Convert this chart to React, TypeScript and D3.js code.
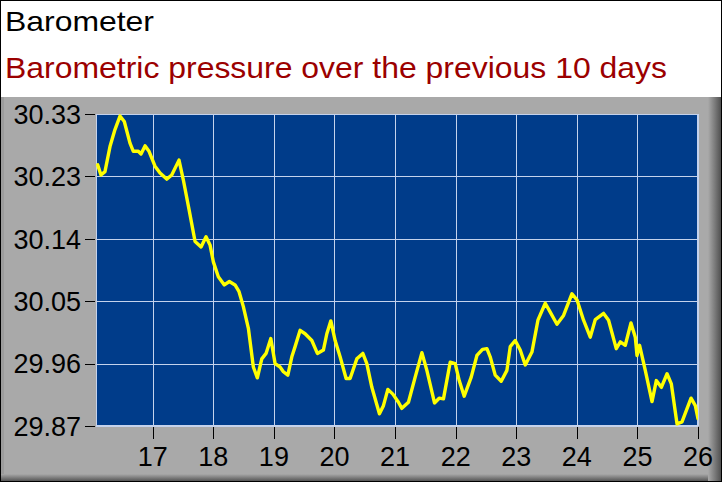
import * as d3 from "d3";
import { useEffect, useRef } from "react";

// day of month (fractional) and pressure in inHg
const days = [
  16.092, 16.146, 16.212, 16.295, 16.377, 16.46, 16.531, 16.625, 16.68, 16.762,
  16.807, 16.873, 16.939, 17.038, 17.121, 17.231, 17.314, 17.434, 17.505, 17.6,
  17.699, 17.798, 17.88, 17.946, 18.001, 18.083, 18.182, 18.265, 18.359, 18.425,
  18.496, 18.579, 18.661, 18.727, 18.8, 18.871, 18.949, 19.02, 19.102, 19.157,
  19.23, 19.296, 19.35, 19.433, 19.515, 19.626, 19.718, 19.817, 19.874, 19.94,
  20.011, 20.093, 20.192, 20.258, 20.369, 20.468, 20.534, 20.617, 20.742, 20.808,
  20.881, 20.964, 21.056, 21.112, 21.221, 21.332, 21.443, 21.525, 21.651, 21.728,
  21.799, 21.91, 21.993, 22.059, 22.141, 22.257, 22.351, 22.443, 22.516, 22.57,
  22.653, 22.752, 22.846, 22.901, 22.983, 23.066, 23.149, 23.259, 23.358, 23.479,
  23.561, 23.672, 23.781, 23.92, 24.002, 24.111, 24.222, 24.305, 24.442, 24.524,
  24.651, 24.718, 24.8, 24.894, 24.965, 24.993, 25.036, 25.13, 25.241, 25.312,
  25.395, 25.489, 25.56, 25.654, 25.736, 25.885, 25.956, 26.0,
];

const pressure = [
  30.255, 30.24, 30.245, 30.282, 30.307, 30.327, 30.319, 30.287, 30.275, 30.275,
  30.271, 30.283, 30.275, 30.253, 30.243, 30.234, 30.24, 30.262, 30.233, 30.189,
  30.142, 30.134, 30.149, 30.137, 30.112, 30.09, 30.078, 30.083, 30.078, 30.068,
  30.046, 30.014, 29.957, 29.941, 29.969, 29.977, 29.999, 29.962, 29.957, 29.95,
  29.945, 29.972, 29.987, 30.011, 30.006, 29.996, 29.977, 29.982, 30.006, 30.025,
  29.996, 29.972, 29.94, 29.94, 29.969, 29.977, 29.962, 29.927, 29.888, 29.9,
  29.924, 29.917, 29.905, 29.896, 29.905, 29.942, 29.978, 29.952, 29.904, 29.911,
  29.91, 29.964, 29.962, 29.937, 29.914, 29.942, 29.974, 29.983, 29.984, 29.972,
  29.945, 29.936, 29.952, 29.987, 29.996, 29.982, 29.96, 29.979, 30.026, 30.051,
  30.038, 30.02, 30.033, 30.065, 30.056, 30.026, 30.001, 30.027, 30.036, 30.026,
  29.984, 29.994, 29.989, 30.022, 30.001, 29.974, 29.989, 29.952, 29.906, 29.937,
  29.927, 29.947, 29.932, 29.873, 29.876, 29.911, 29.9, 29.881,
];

const xTicks = [17, 18, 19, 20, 21, 22, 23, 24, 25, 26];
const yTickLabels = ["29.87", "29.96", "30.05", "30.14", "30.23", "30.33"];

const W = 722;
const H = 482;
const plot = { left: 96, right: 698, top: 114, bottom: 426 };
const font = "'Liberation Sans', Arial, sans-serif";

export default function App() {
  const ref = useRef<SVGSVGElement>(null);

  useEffect(() => {
    const svg = d3.select(ref.current);
    svg.selectAll("*").remove();

    const defs = svg.append("defs");
    const gr = defs
      .append("linearGradient")
      .attr("id", "edgeR")
      .attr("x1", "0").attr("x2", "1").attr("y1", "0").attr("y2", "0");
    gr.append("stop").attr("offset", "0").attr("stop-color", "#a9a9a9");
    gr.append("stop").attr("offset", "1").attr("stop-color", "#4a4a4a");
    const gb = defs
      .append("linearGradient")
      .attr("id", "edgeB")
      .attr("x1", "0").attr("x2", "0").attr("y1", "0").attr("y2", "1");
    gb.append("stop").attr("offset", "0").attr("stop-color", "#a9a9a9");
    gb.append("stop").attr("offset", "1").attr("stop-color", "#4a4a4a");
    defs
      .append("clipPath")
      .attr("id", "plotClip")
      .append("rect")
      .attr("x", plot.left)
      .attr("y", plot.top)
      .attr("width", plot.right - plot.left)
      .attr("height", plot.bottom - plot.top);

    // header and frame
    svg.append("rect").attr("width", W).attr("height", 97).attr("fill", "#fff");
    svg.append("rect").attr("y", 97).attr("width", W).attr("height", H - 97).attr("fill", "#a9a9a9");
    svg.append("rect").attr("y", 97).attr("width", 4).attr("height", H - 97).attr("fill", "#9c9c9c");
    svg.append("rect").attr("x", 708).attr("y", 97).attr("width", 14).attr("height", H - 97).attr("fill", "url(#edgeR)");
    svg.append("rect").attr("y", 474).attr("width", 708).attr("height", 8).attr("fill", "url(#edgeB)");
    svg
      .append("rect")
      .attr("x", 0.5).attr("y", 0.5)
      .attr("width", W - 1).attr("height", H - 1)
      .attr("fill", "none").attr("stroke", "#000");

    svg
      .append("text")
      .attr("x", 5).attr("y", 31)
      .attr("font-family", font).attr("font-size", 28)
      .attr("textLength", 149).attr("lengthAdjust", "spacingAndGlyphs")
      .attr("fill", "#000")
      .text("Barometer");
    svg
      .append("text")
      .attr("x", 5).attr("y", 78)
      .attr("font-family", font).attr("font-size", 29)
      .attr("textLength", 662).attr("lengthAdjust", "spacingAndGlyphs")
      .attr("fill", "#9b0000")
      .text("Barometric pressure over the previous 10 days");

    const x = d3.scaleLinear().domain([16.064, 26]).range([plot.left, plot.right]);
    const y = d3.scaleLinear().domain([29.87, 30.33]).range([plot.bottom, plot.top]);
    const yTicks = yTickLabels.map(
      (_, i) => y.domain()[0] + (i * (y.domain()[1] - y.domain()[0])) / (yTickLabels.length - 1)
    );

    svg
      .append("rect")
      .attr("x", plot.left).attr("y", plot.top)
      .attr("width", plot.right - plot.left).attr("height", plot.bottom - plot.top)
      .attr("fill", "#003c8a");

    const grid = svg.append("g").attr("stroke", "#c4d2ec").attr("stroke-width", 1);
    grid
      .selectAll("line.vx")
      .data(xTicks)
      .join("line")
      .attr("x1", (d) => Math.round(x(d)) + 0.5)
      .attr("x2", (d) => Math.round(x(d)) + 0.5)
      .attr("y1", plot.top).attr("y2", plot.bottom);
    grid
      .selectAll("line.hy")
      .data(yTicks)
      .join("line")
      .attr("y1", (d) => Math.round(y(d)) + 0.5)
      .attr("y2", (d) => Math.round(y(d)) + 0.5)
      .attr("x1", plot.left).attr("x2", plot.right);

    svg
      .append("rect")
      .attr("x", plot.left + 0.5).attr("y", plot.top + 0.5)
      .attr("width", plot.right - plot.left - 1).attr("height", plot.bottom - plot.top - 1)
      .attr("fill", "none").attr("stroke", "#c4d2ec");

    const line = d3
      .line<number>()
      .x((_, i) => x(days[i]))
      .y((d) => y(d));
    svg
      .append("path")
      .attr("clip-path", "url(#plotClip)")
      .attr("d", line(pressure))
      .attr("fill", "none")
      .attr("stroke", "#ffff00")
      .attr("stroke-width", 3.4)
      .attr("stroke-linejoin", "round")
      .attr("stroke-linecap", "round");

    // axes
    const yAxis = svg.append("g");
    yAxis
      .selectAll("line")
      .data(yTicks)
      .join("line")
      .attr("x1", plot.left - 11).attr("x2", plot.left - 1)
      .attr("y1", (d) => Math.round(y(d)) + 0.5)
      .attr("y2", (d) => Math.round(y(d)) + 0.5)
      .attr("stroke", "#000");
    yAxis
      .selectAll("text")
      .data(yTicks)
      .join("text")
      .attr("x", plot.left - 15)
      .attr("y", (d) => y(d))
      .attr("dy", "0.36em")
      .attr("text-anchor", "end")
      .attr("font-family", font).attr("font-size", 27)
      .attr("fill", "#000")
      .text((_, i) => yTickLabels[i]);

    const xAxis = svg.append("g");
    xAxis
      .selectAll("line")
      .data(xTicks)
      .join("line")
      .attr("x1", (d) => Math.round(x(d)) + 0.5)
      .attr("x2", (d) => Math.round(x(d)) + 0.5)
      .attr("y1", plot.bottom + 1).attr("y2", plot.bottom + 13)
      .attr("stroke", "#000");
    xAxis
      .selectAll("text")
      .data(xTicks)
      .join("text")
      .attr("x", (d) => x(d))
      .attr("y", 466)
      .attr("text-anchor", "middle")
      .attr("font-family", font).attr("font-size", 27)
      .attr("fill", "#000")
      .text((d) => String(d));
  }, []);

  return (
    <svg
      ref={ref}
      width={W}
      height={H}
      style={{ position: "absolute", left: 0, top: 0 }}
    />
  );
}
